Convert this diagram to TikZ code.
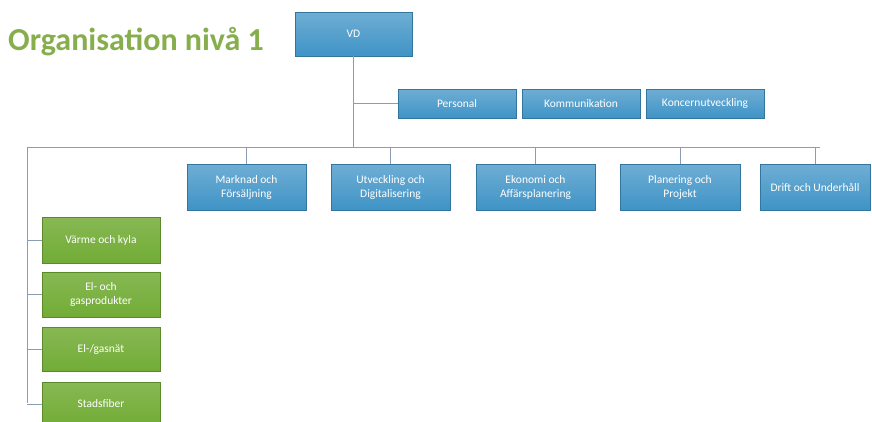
\documentclass[tikz,border=0pt]{standalone}
\usepackage{fontspec}
\setmainfont{Carlito}
\usetikzlibrary{shadows}
\definecolor{titlegreen}{HTML}{86AE4C}
\definecolor{unitblue}{HTML}{3F93C6}
\definecolor{unitgreen}{HTML}{72AC36}
\definecolor{linkgray}{HTML}{8A9DB3}
\begin{document}
\begin{tikzpicture}[x=1pt, y=-1pt]
    % Define styles
    \tikzset{
        pagetitle/.style={font=\fontsize{32}{36}\selectfont\bfseries, text=titlegreen, anchor=west, inner sep=0pt},
        unitbox/.style={draw=unitblue!80!black, line width=0.3pt, top color=unitblue!75!white, bottom color=unitblue,
            text=white, align=center, font=\fontsize{11.5}{14}\selectfont, inner sep=1pt,
            drop shadow={shadow xshift=0.8pt, shadow yshift=-1pt, opacity=0.25}},
        bluebox/.style={unitbox},
        greenbox/.style={unitbox, draw=unitgreen!80!black, top color=unitgreen!85!white, bottom color=unitgreen},
        link/.style={linkgray, line width=0.9pt}
    }
    \useasboundingbox (0,0) rectangle (872,421);

    % Title
    \node[pagetitle] (title) at (8,42) {Organisation nivå 1};

    % Top level
    \node[bluebox, minimum width=117pt, minimum height=44pt] (vd) at (353.5,34) {VD};

    % Staff units
    \node[bluebox, minimum width=118pt, minimum height=29pt] (personal) at (457,103.5) {Personal};
    \node[bluebox, minimum width=118pt, minimum height=29pt] (kommunikation) at (581,103.5) {Kommunikation};
    \node[bluebox, minimum width=118pt, minimum height=29pt] (koncern) at (705,103.5) {Koncernutveckling};

    % Functions
    \node[bluebox, minimum width=119pt, minimum height=46pt] (marknad) at (246.5,187) {Marknad och\\Försäljning};
    \node[bluebox, minimum width=119pt, minimum height=46pt] (utveckling) at (390.5,187) {Utveckling och\\Digitalisering};
    \node[bluebox, minimum width=119pt, minimum height=46pt] (ekonomi) at (535.5,187) {Ekonomi och\\Affärsplanering};
    \node[bluebox, minimum width=120pt, minimum height=46pt] (planering) at (680,187) {Planering och\\Projekt};
    \node[bluebox, minimum width=110pt, minimum height=46pt] (drift) at (815,187) {Drift och Underhåll};

    % Business areas
    \node[greenbox, minimum width=118pt, minimum height=46pt] (varme) at (101,240) {Värme och kyla};
    \node[greenbox, minimum width=118pt, minimum height=45pt] (elgas) at (101,294.5) {El- och\\gasprodukter};
    \node[greenbox, minimum width=118pt, minimum height=44pt] (natet) at (101,349) {El-/gasnät};
    \node[greenbox, minimum width=118pt, minimum height=44pt] (stadsfiber) at (101,404) {Stadsfiber};

    % Connectors
    \coordinate (busleft) at (27,147);
    \coordinate (busright) at (820,147);
    \coordinate (leftend) at (27,403);
    \begin{scope}[on background layer/.try]
    \draw[link] (vd.south) -- (vd.south |- busleft);
    \draw[link] (vd.south |- personal.west) -- (personal.west);
    \draw[link] (busleft) -- (busright);
    \foreach \unit in {marknad, utveckling, ekonomi, planering, drift}
        \draw[link] (\unit.north |- busleft) -- (\unit.north);
    \draw[link] (busleft) -- (leftend);
    \foreach \unit in {varme, elgas, natet, stadsfiber}
        \draw[link] (busleft |- \unit.west) -- (\unit.west);
    \end{scope}
\end{tikzpicture}
\end{document}
